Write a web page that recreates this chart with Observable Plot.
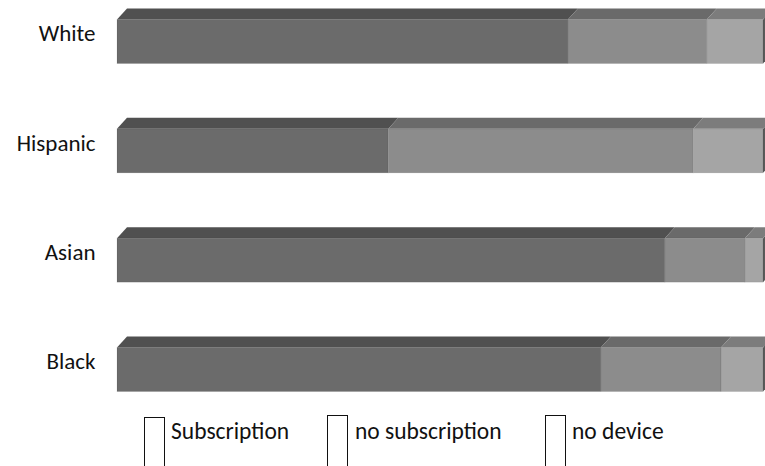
<!DOCTYPE html>
<html>
<head>
<meta charset="utf-8">
<script src="https://cdn.jsdelivr.net/npm/d3@7"></script>
<script src="https://cdn.jsdelivr.net/npm/@observablehq/plot@0.6"></script>
<style>
  html, body { margin: 0; padding: 0; background: #fff; overflow: hidden; }
  #wrap { position: relative; width: 765px; height: 466px; font-family: Carlito, Calibri, Lato, sans-serif; }
  .lg-box { position: absolute; height: 60px; border: 1.5px solid #111; box-sizing: border-box; }
  .lg-text { position: absolute; font-size: 23.5px; color: #111; line-height: 1; white-space: nowrap; }
</style>
</head>
<body>
<div id="wrap"></div>
<script>
// ---- data ----
const categories = ["White", "Hispanic", "Asian", "Black"];
const seriesNames = ["Subscription", "no subscription", "no device"];
const subscription   = [69.8, 42.0, 84.8, 74.9];
const noSubscription = [21.5, 47.2, 12.4, 18.6];
const noDevice       = [8.7, 10.8, 2.8, 6.5];

// ---- styling ----
const frontColor = {"Subscription": "#6b6b6b", "no subscription": "#8c8c8c", "no device": "#a5a5a5"};
const topColor   = {"Subscription": "#505050", "no subscription": "#6a6a6a", "no device": "#7c7c7c"};
const sideColor = "#5a5a5a";
const font = "Carlito, Calibri, Lato, sans-serif";

// pixel geometry helpers
const W = 765, H = 410, mL = 117, mR = 2;
const yTop = 41.5, yBot = 369.5;
const rowPx = (yBot - yTop) / (categories.length - 1);
const xPx = (W - mL - mR) / 100;
const hh = 22 / rowPx;        // half front height in row units
const depthY = 11 / rowPx;    // top face depth in row units
const depthX = 10 / xPx;      // top face shift in x units

// build stacked segments
const values = [subscription, noSubscription, noDevice];
const segs = [];
categories.forEach((c, i) => {
  let acc = 0;
  seriesNames.forEach((s, k) => {
    const v = values[k][i];
    segs.push({cat: c, i, s, x1: acc, x2: acc + v, last: k === seriesNames.length - 1});
    acc += v;
  });
});

const topPts = segs.flatMap(d => [
  {key: d.cat + d.s, s: d.s, y: d.i - hh, x1: d.x1, x2: d.x2},
  {key: d.cat + d.s, s: d.s, y: d.i - hh - depthY, x1: d.x1 + depthX, x2: d.x2 + depthX}
]);
const sidePts = segs.filter(d => d.last).flatMap(d => [
  {key: d.cat, x: d.x2, y1: d.i - hh, y2: d.i + hh},
  {key: d.cat, x: d.x2 + depthX, y1: d.i - hh - depthY, y2: d.i + hh - depthY}
]);

const chart = Plot.plot({
  width: W, height: H,
  marginLeft: mL, marginRight: mR, marginTop: 0, marginBottom: 0,
  style: {fontFamily: font, background: "#fff", overflow: "visible"},
  x: {domain: [0, 100], axis: null},
  y: {domain: [0, categories.length - 1], range: [yTop, yBot], axis: null},
  marks: [
    Plot.areaY(sidePts, {x: "x", y1: "y1", y2: "y2", z: "key", fill: sideColor}),
    Plot.areaX(topPts, {x1: "x1", x2: "x2", y: "y", z: "key", fill: d => topColor[d.s]}),
    Plot.rect(segs, {x1: "x1", x2: "x2", y1: d => d.i - hh, y2: d => d.i + hh,
      fill: d => frontColor[d.s], stroke: "#000", strokeOpacity: 0.08, strokeWidth: 1}),
    Plot.text(categories, {x: 0, y: (d, i) => i, text: d => d, textAnchor: "end",
      dx: -22, dy: -8, fontSize: 23, fill: "#111", fontFamily: font})
  ]
});

const wrap = document.getElementById("wrap");
wrap.appendChild(chart);

// legend (HTML, below the SVG)
const legendPos = [
  {box: 144, text: 171, top: 417},
  {box: 327, text: 355, top: 415},
  {box: 545, text: 572, top: 415}
];
seriesNames.forEach((s, k) => {
  const b = document.createElement("div");
  b.className = "lg-box";
  b.style.left = legendPos[k].box + "px";
  b.style.top = legendPos[k].top + "px";
  b.style.width = "21px";
  wrap.appendChild(b);
  const t = document.createElement("div");
  t.className = "lg-text";
  t.textContent = s;
  t.style.left = legendPos[k].text + "px";
  t.style.top = "420px";
  wrap.appendChild(t);
});
</script>
</body>
</html>
